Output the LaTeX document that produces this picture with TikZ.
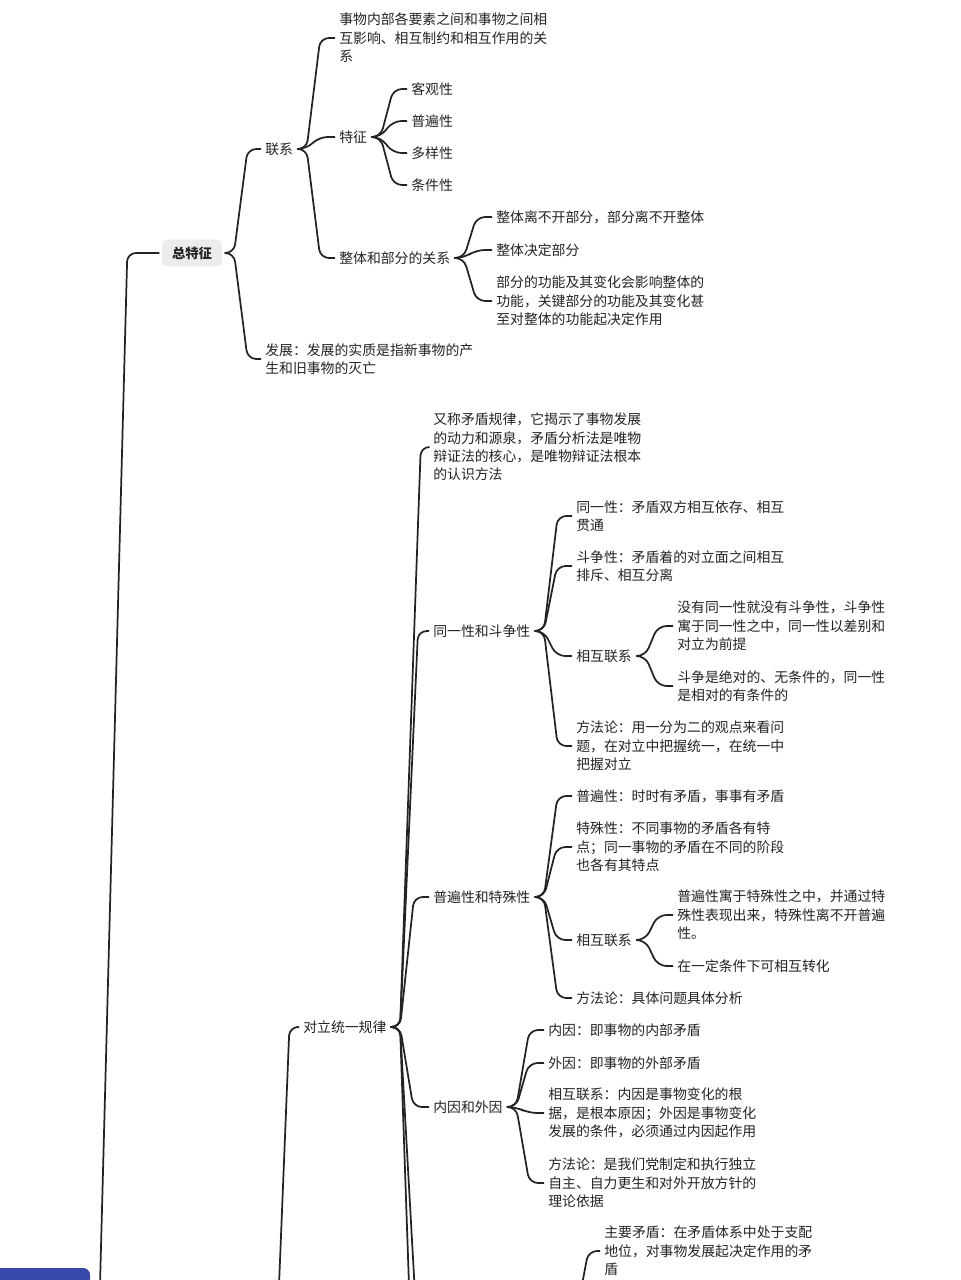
\documentclass[tikz,border=0pt]{standalone}
\usepackage{fontspec}
\setmainfont{Noto Sans CJK SC}
\usetikzlibrary{calc}
\definecolor{rootblue} {RGB}{57,73,171}
\definecolor{keygray}  {RGB}{236,236,236}
\definecolor{inkgray}  {RGB}{35,35,35}
\definecolor{linegray} {RGB}{35,35,35}

\begin{document}
\begin{tikzpicture}[x=0.75pt,y=-0.75pt,
  every node/.style={font=\fontsize{10.4pt}{13.8pt}\selectfont,text=inkgray},
  topic/.style={anchor=west,align=left,inner xsep=3pt,inner ysep=1pt,xshift=-3pt},
  keybox/.style={fill=keygray,rounded corners=4pt,minimum width=45pt,minimum height=20pt,
                 outer xsep=2pt,font=\fontsize{10pt}{12pt}\selectfont\bfseries},
  rootbox/.style={fill=rootblue,rounded corners=5pt,minimum width=75pt,minimum height=48pt,
                  inner sep=0pt},
  link/.style={draw=linegray,line width=1.3pt,rounded corners=6.5pt,
    to path={let \p1=(\tikztostart),\p2=(\tikztotarget),\n1={abs(\y2-\y1)} in
             -- ++(7pt,0) -- (\x1+16pt+0.015*\n1,\y2) -- (\tikztotarget)}},
]
\useasboundingbox (0,0) rectangle (960,1280);
\clip (0,0) rectangle (960,1280);

%% ── Root and main branches ───────────────────────────────────────────────
\node[rootbox] (root) at (40,1300) {};
\node[keybox] (zong) at (192,253) {总特征};
\coordinate (lawsrc) at (261,1500);
\node[topic] (duili) at (303,1027) {对立统一规律};

%% ── 总特征 ───────────────────────────────────────────────────────────────
\node[topic] (lianxi) at (265,149) {联系};
\node[topic] (fazhan) at (265,359) {发展：发展的实质是指新事物的产\\生和旧事物的灭亡};
\node[topic] (lxdef) at (339,38) {事物内部各要素之间和事物之间相\\互影响、相互制约和相互作用的关\\系};
\node[topic] (tezheng) at (339,137) {特征};
\node[topic] (zhengti) at (339,258) {整体和部分的关系};
\node[topic] (keguan) at (411,89) {客观性};
\node[topic] (pubian) at (411,121) {普遍性};
\node[topic] (duoyang) at (411,153) {多样性};
\node[topic] (tiaojian) at (411,185) {条件性};
\node[topic] (zta) at (496,217) {整体离不开部分，部分离不开整体};
\node[topic] (ztb) at (496,250) {整体决定部分};
\node[topic] (ztc) at (496,301) {部分的功能及其变化会影响整体的\\功能，关键部分的功能及其变化甚\\至对整体的功能起决定作用};

%% ── 对立统一规律 ─────────────────────────────────────────────────────────
\node[topic] (youcheng) at (433,447) {又称矛盾规律，它揭示了事物发展\\的动力和源泉，矛盾分析法是唯物\\辩证法的核心，是唯物辩证法根本\\的认识方法};
\node[topic] (tydz) at (433,631) {同一性和斗争性};
\node[topic] (pbts) at (433,897) {普遍性和特殊性};
\node[topic] (nywy) at (433,1107) {内因和外因};
\coordinate (pairA) at (429,1320);
\coordinate (pairB) at (429,1640);
\coordinate (pairAsrc) at (566,1320);

%% 同一性和斗争性
\node[topic] (tyx) at (576,516) {同一性：矛盾双方相互依存、相互\\贯通};
\node[topic] (dzx) at (576,566) {斗争性：矛盾着的对立面之间相互\\排斥、相互分离};
\node[topic] (xhlxa) at (576,656) {相互联系};
\node[topic] (ffla) at (576,746) {方法论：用一分为二的观点来看问\\题，在对立中把握统一，在统一中\\把握对立};
\node[topic] (lxaa) at (677,626) {没有同一性就没有斗争性，斗争性\\寓于同一性之中，同一性以差别和\\对立为前提};
\node[topic] (lxab) at (677,686) {斗争是绝对的、无条件的，同一性\\是相对的有条件的};

%% 普遍性和特殊性
\node[topic] (pbx) at (576,796) {普遍性：时时有矛盾，事事有矛盾};
\node[topic] (tsx) at (576,847) {特殊性：不同事物的矛盾各有特\\点；同一事物的矛盾在不同的阶段\\也各有其特点};
\node[topic] (xhlxb) at (576,940) {相互联系};
\node[topic] (fflb) at (576,998) {方法论：具体问题具体分析};
\node[topic] (lxba) at (677,915) {普遍性寓于特殊性之中，并通过特\\殊性表现出来，特殊性离不开普遍\\性。};
\node[topic] (lxbb) at (677,966) {在一定条件下可相互转化};

%% 内因和外因
\node[topic] (neiyin) at (548,1030) {内因：即事物的内部矛盾};
\node[topic] (waiyin) at (548,1063) {外因：即事物的外部矛盾};
\node[topic] (nwlx) at (548,1113) {相互联系：内因是事物变化的根\\据，是根本原因；外因是事物变化\\发展的条件，必须通过内因起作用};
\node[topic] (nwff) at (548,1183) {方法论：是我们党制定和执行独立\\自主、自力更生和对外开放方针的\\理论依据};

%% 主要矛盾 (parent below the frame)
\node[topic] (zhuyao) at (604,1251) {主要矛盾：在矛盾体系中处于支配\\地位，对事物发展起决定作用的矛\\盾};

%% ── Connections ──────────────────────────────────────────────────────────
\draw[link] (root.east) to (zong.west);
\draw[link] (lawsrc) to (duili.west);

\draw[link] (zong.east) to (lianxi.west);
\draw[link] (zong.east) to (fazhan.west);
\draw[link] (lianxi.east) to (lxdef.west);
\draw[link] (lianxi.east) to (tezheng.west);
\draw[link] (lianxi.east) to (zhengti.west);
\draw[link] (tezheng.east) to (keguan.west);
\draw[link] (tezheng.east) to (pubian.west);
\draw[link] (tezheng.east) to (duoyang.west);
\draw[link] (tezheng.east) to (tiaojian.west);
\draw[link] (zhengti.east) to (zta.west);
\draw[link] (zhengti.east) to (ztb.west);
\draw[link] (zhengti.east) to (ztc.west);

\draw[link] (duili.east) to (youcheng.west);
\draw[link] (duili.east) to (tydz.west);
\draw[link] (duili.east) to (pbts.west);
\draw[link] (duili.east) to (nywy.west);
\draw[link] (duili.east) to (pairA);
\draw[link] (duili.east) to (pairB);

\draw[link] (tydz.east) to (tyx.west);
\draw[link] (tydz.east) to (dzx.west);
\draw[link] (tydz.east) to (xhlxa.west);
\draw[link] (tydz.east) to (ffla.west);
\draw[link] (xhlxa.east) to (lxaa.west);
\draw[link] (xhlxa.east) to (lxab.west);

\draw[link] (pbts.east) to (pbx.west);
\draw[link] (pbts.east) to (tsx.west);
\draw[link] (pbts.east) to (xhlxb.west);
\draw[link] (pbts.east) to (fflb.west);
\draw[link] (xhlxb.east) to (lxba.west);
\draw[link] (xhlxb.east) to (lxbb.west);

\draw[link] (nywy.east) to (neiyin.west);
\draw[link] (nywy.east) to (waiyin.west);
\draw[link] (nywy.east) to (nwlx.west);
\draw[link] (nywy.east) to (nwff.west);

\draw[link] (pairAsrc) to (zhuyao.west);

\end{tikzpicture}
\end{document}
